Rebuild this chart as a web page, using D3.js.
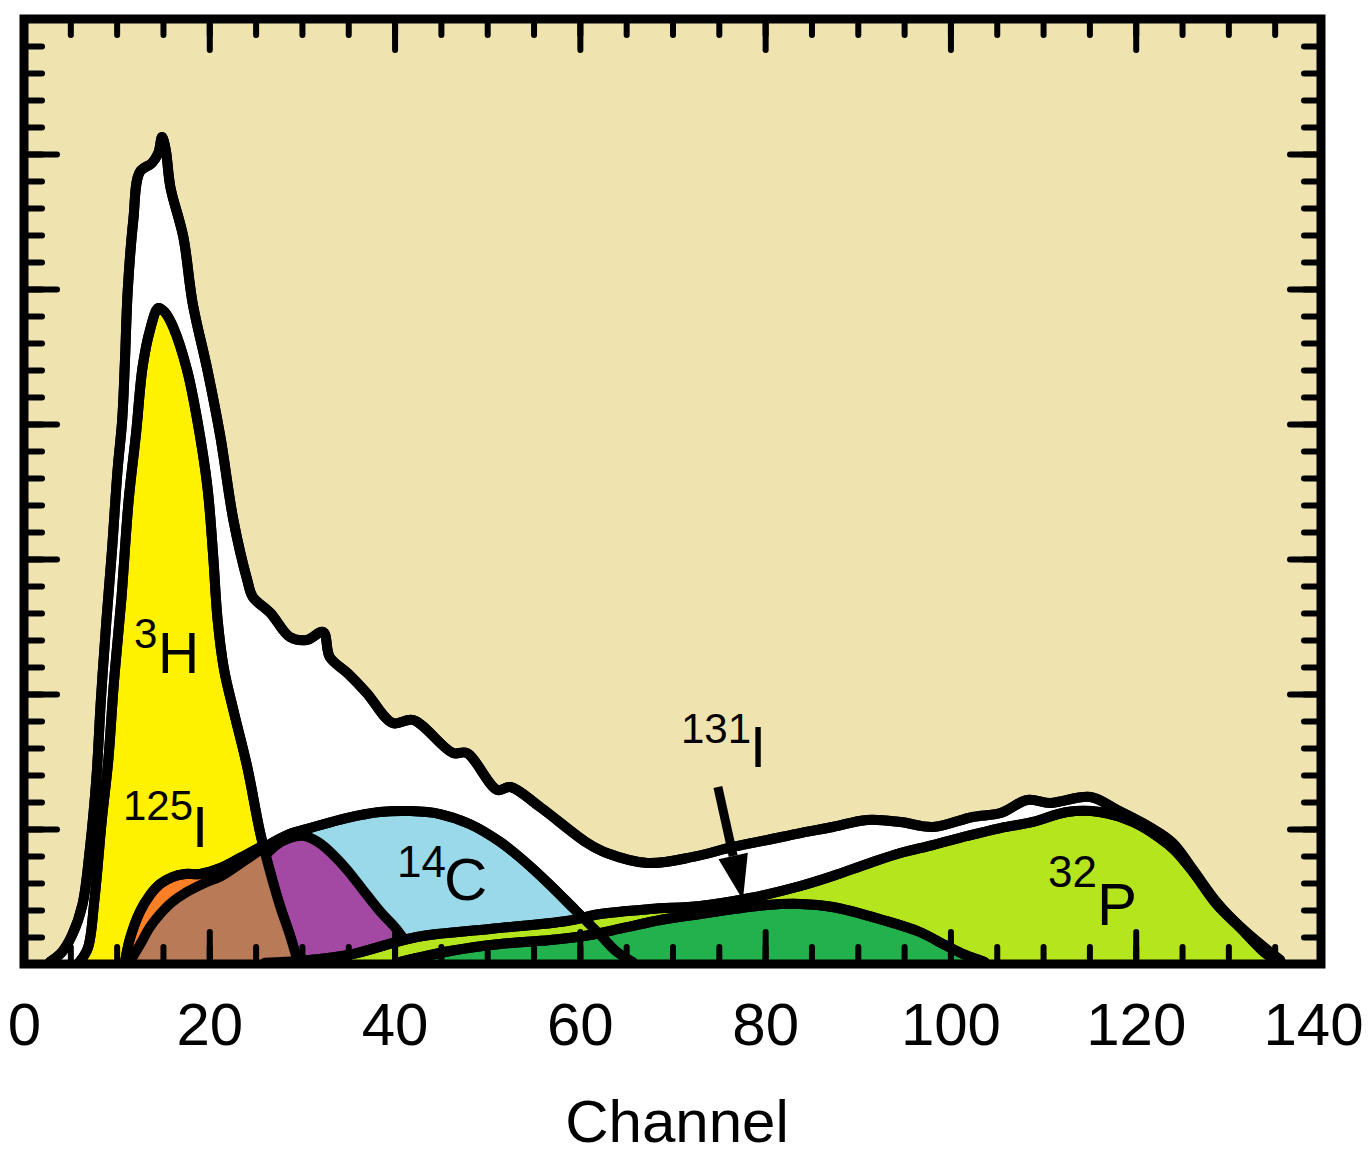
<!DOCTYPE html>
<html>
<head>
<meta charset="utf-8">
<title>Channel spectrum</title>
<script src="https://d3js.org/d3.v7.min.js"></script>
<style>
  body { margin: 0; background: #fff; }
  svg text { font-family: "Liberation Sans", Arial, Helvetica, sans-serif; fill: #000; }
</style>
</head>
<body>
<svg id="chart" width="1368" height="1156"></svg>
<script>

// spectra: [channel, counts]
var totalSpectrum = [[2.8,15],[4.1,89],[5.2,215],[6.3,437],[7.1,844],[7.8,1363],[8.3,1956],[8.9,2548],[9.5,3067],[10.1,3659],[10.6,4030],[10.9,4474],[11.2,4992],[11.8,5511],[12.5,5866],[13.8,5933],[14.5,6007],[14.9,6126],[15.3,6030],[15.8,5755],[17.2,5385],[18.2,4896],[19.8,4400],[21.2,3904],[22.6,3289],[24.1,2844],[24.7,2718],[26.6,2600],[28.7,2422],[30.5,2400],[32.3,2459],[33.0,2274],[34.9,2156],[37.0,2007],[39.8,1785],[42.0,1807],[46.3,1563],[47.8,1563],[51.1,1289],[52.5,1311],[55.7,1163],[60.8,896],[62.9,822],[67.3,748],[72.2,793],[76.5,867],[80.2,918],[83.8,970],[87.3,1015],[91.0,1067],[94.6,1052],[98.1,1015],[102.4,1089],[105.4,1118],[108.3,1215],[110.8,1193],[115.1,1237],[118.0,1141],[121.5,1015],[124.0,896],[126.2,696],[128.8,452],[131.3,274],[134.2,104],[135.6,30]];

var tritium = [[6.0,15],[6.9,119],[7.6,474],[8.4,1067],[9.1,1511],[9.7,2081],[10.5,2696],[11.3,3437],[12.1,3933],[12.8,4422],[13.6,4696],[14.5,4859],[15.2,4829],[16.1,4718],[17.6,4400],[18.7,4030],[19.8,3533],[20.4,3044],[20.9,2548],[21.6,2178],[22.6,1881],[24.1,1459],[25.5,970],[26.6,674],[27.6,437],[28.7,215],[29.5,30]];

var iodine125 = [[10.9,15],[11.4,178],[12.5,385],[13.6,511],[14.7,593],[16.0,644],[17.4,667],[19.0,667],[21.2,711],[23.3,785],[25.3,859]];

var carbon14 = [[11.4,15],[12.5,141],[13.6,274],[14.7,370],[16.0,459],[17.4,526],[19.5,600],[21.3,652],[23.9,770],[26.2,874],[28.7,963],[30.9,1007],[34.8,1081],[38.4,1126],[41.7,1133],[44.9,1111],[48.1,1037],[51.4,904],[54.1,756],[56.8,585],[59.5,400],[62.2,215],[64.0,89],[65.7,15]];

var purpleComp = [[21.7,15],[23.1,289],[24.4,585],[25.7,770],[27.1,874],[28.7,933],[30.3,948],[31.9,896],[33.4,807],[34.8,704],[36.6,548],[38.5,385],[40.1,267],[41.2,170],[42.5,67],[43.3,15]];

var phosphorus32 = [[26.0,10],[30.0,25],[35.2,70],[42.4,200],[50.3,259],[58.6,319],[62.2,370],[67.6,407],[73.0,430],[78.4,489],[83.8,578],[87.3,652],[91.0,741],[94.6,822],[98.1,881],[101.8,948],[105.4,1007],[108.9,1052],[112.6,1126],[116.1,1126],[119.7,1052],[122.6,933],[124.2,844],[126.2,681],[128.8,437],[131.3,267],[133.6,104],[135.0,30]];

var iodine131 = [[40.6,15],[46.0,96],[51.4,148],[56.8,178],[61.1,215],[64.7,267],[68.7,326],[73.0,370],[80.2,437],[83.8,445],[87.3,422],[92.7,326],[96.7,237],[99.4,141],[101.6,67],[103.7,15]];

var channelLabels = [0, 20, 40, 60, 80, 100, 120, 140];

var svg = d3.select("#chart");

var x = d3.scaleLinear().domain([0, 140]).range([24, 1321]);
var y = d3.scaleLinear().domain([0, 7000]).range([964, 19]);

var curve = d3.curveCatmullRom.alpha(0.5);
var area = d3.area().x(function(d){ return x(d[0]); }).y0(y(0)).y1(function(d){ return y(d[1]); }).curve(curve);
var line = d3.line().x(function(d){ return x(d[0]); }).y(function(d){ return y(d[1]); }).curve(curve);

var defs = svg.append("defs");
defs.append("clipPath").attr("id", "plotclip")
	.append("rect")
	.attr("x", x(0)).attr("y", y(7000))
	.attr("width", x(140) - x(0)).attr("height", y(0) - y(7000));
// brown part = 14C area inside the 3H peak
defs.append("clipPath").attr("id", "h3clip")
	.append("path").attr("d", area(tritium));

// background
svg.append("rect")
	.attr("x", x(0)).attr("y", y(7000))
	.attr("width", x(140) - x(0)).attr("height", y(0) - y(7000))
	.attr("fill", "#efe3b0");

var plot = svg.append("g").attr("clip-path", "url(#plotclip)");

function outline(data) {
	plot.append("path").attr("d", line(data))
		.attr("fill", "none").attr("stroke", "#000")
		.attr("stroke-width", 10).attr("stroke-linejoin", "round").attr("stroke-linecap", "round");
}
function layer(data, color) {
	plot.append("path").attr("d", area(data)).attr("fill", color);
	outline(data);
}

layer(totalSpectrum, "#ffffff");
layer(carbon14, "#99d9ea");
layer(purpleComp, "#a349a4");
layer(phosphorus32, "#b5e61d");
layer(iodine131, "#22b14c");
layer(tritium, "#fff200");
layer(iodine125, "#ff7f27");

plot.append("path")
	.attr("d", area(carbon14))
	.attr("clip-path", "url(#h3clip)")
	.attr("fill", "#b97a57");

// outlines on top
[totalSpectrum, carbon14, phosphorus32, iodine131, tritium, iodine125].forEach(outline);

// frame
svg.append("rect")
	.attr("x", x(0)).attr("y", y(7000))
	.attr("width", x(140) - x(0)).attr("height", y(0) - y(7000))
	.attr("fill", "none").attr("stroke", "#000").attr("stroke-width", 9);

// inward ticks
function styleTicks(g) {
	g.select(".domain").remove();
	g.selectAll(".tick line").attr("stroke", "#000").attr("stroke-width", 6).attr("stroke-linecap", "round");
	g.selectAll(".tick text").remove();
}
var minorX = d3.range(5, 140, 5), majorX = d3.range(20, 140, 20);
var minorY = d3.range(200, 7000, 200), majorY = d3.range(1000, 7000, 1000);

svg.append("g").attr("transform", "translate(0," + y(0) + ")")
	.call(d3.axisBottom(x).tickValues(minorX).tickSize(-17)).call(styleTicks);
svg.append("g").attr("transform", "translate(0," + y(0) + ")")
	.call(d3.axisBottom(x).tickValues(majorX).tickSize(-32)).call(styleTicks);
svg.append("g").attr("transform", "translate(0," + y(7000) + ")")
	.call(d3.axisTop(x).tickValues(minorX).tickSize(-16)).call(styleTicks);
svg.append("g").attr("transform", "translate(0," + y(7000) + ")")
	.call(d3.axisTop(x).tickValues(majorX).tickSize(-31)).call(styleTicks);
svg.append("g").attr("transform", "translate(" + x(0) + ",0)")
	.call(d3.axisLeft(y).tickValues(minorY).tickSize(-18)).call(styleTicks);
svg.append("g").attr("transform", "translate(" + x(0) + ",0)")
	.call(d3.axisLeft(y).tickValues(majorY).tickSize(-33)).call(styleTicks);
svg.append("g").attr("transform", "translate(" + x(140) + ",0)")
	.call(d3.axisRight(y).tickValues(minorY).tickSize(-17)).call(styleTicks);
svg.append("g").attr("transform", "translate(" + x(140) + ",0)")
	.call(d3.axisRight(y).tickValues(majorY).tickSize(-31)).call(styleTicks);

// channel labels
var xLab = svg.append("g")
	.attr("transform", "translate(0," + y(0) + ")")
	.call(d3.axisBottom(x).tickValues(channelLabels).tickSize(0).tickPadding(38).tickFormat(d3.format("d")));
xLab.select(".domain").remove();
xLab.attr("font-size", 60).attr("font-family", "'Liberation Sans', Arial, Helvetica, sans-serif");
// keep the last label inside the page
xLab.selectAll(".tick text").filter(function(d){ return d === 140; }).attr("x", -8);

svg.append("text")
	.attr("x", 677).attr("y", 1142)
	.attr("text-anchor", "middle")
	.attr("font-size", 60)
	.text("Channel");

// isotope labels (superscript mass number + symbol)
function isoLabel(mass, sym, mx, my, mSize, sx, sy, sSize) {
	svg.append("text").attr("x", mx).attr("y", my).attr("font-size", mSize).text(mass);
	svg.append("text").attr("x", sx).attr("y", sy).attr("font-size", sSize).text(sym);
}
isoLabel("3", "H", 134, 648, 42, 158, 673, 57);
isoLabel("125", "I", 123, 820, 42, 192, 847, 58);
isoLabel("14", "C", 397, 877, 44, 444, 900, 60);
isoLabel("32", "P", 1048, 887, 44, 1097, 925, 60);
isoLabel("131", "I", 681, 743, 42, 750, 767, 58);

// arrow for 131I
var a0 = [x(74.9), y(1311)], tip = [x(77.6), y(474)];
var dx = tip[0] - a0[0], dy = tip[1] - a0[1], len = Math.sqrt(dx * dx + dy * dy);
var ux = dx / len, uy = dy / len, headLen = 45, headW = 15;
var base = [tip[0] - ux * headLen, tip[1] - uy * headLen];
svg.append("line")
	.attr("x1", a0[0]).attr("y1", a0[1]).attr("x2", base[0]).attr("y2", base[1])
	.attr("stroke", "#000").attr("stroke-width", 9);
svg.append("polygon")
	.attr("points", [
		tip,
		[base[0] + uy * headW, base[1] - ux * headW],
		[base[0] - uy * headW, base[1] + ux * headW]
	].map(function(p){ return p.join(","); }).join(" "))
	.attr("fill", "#000");

</script>
</body>
</html>
